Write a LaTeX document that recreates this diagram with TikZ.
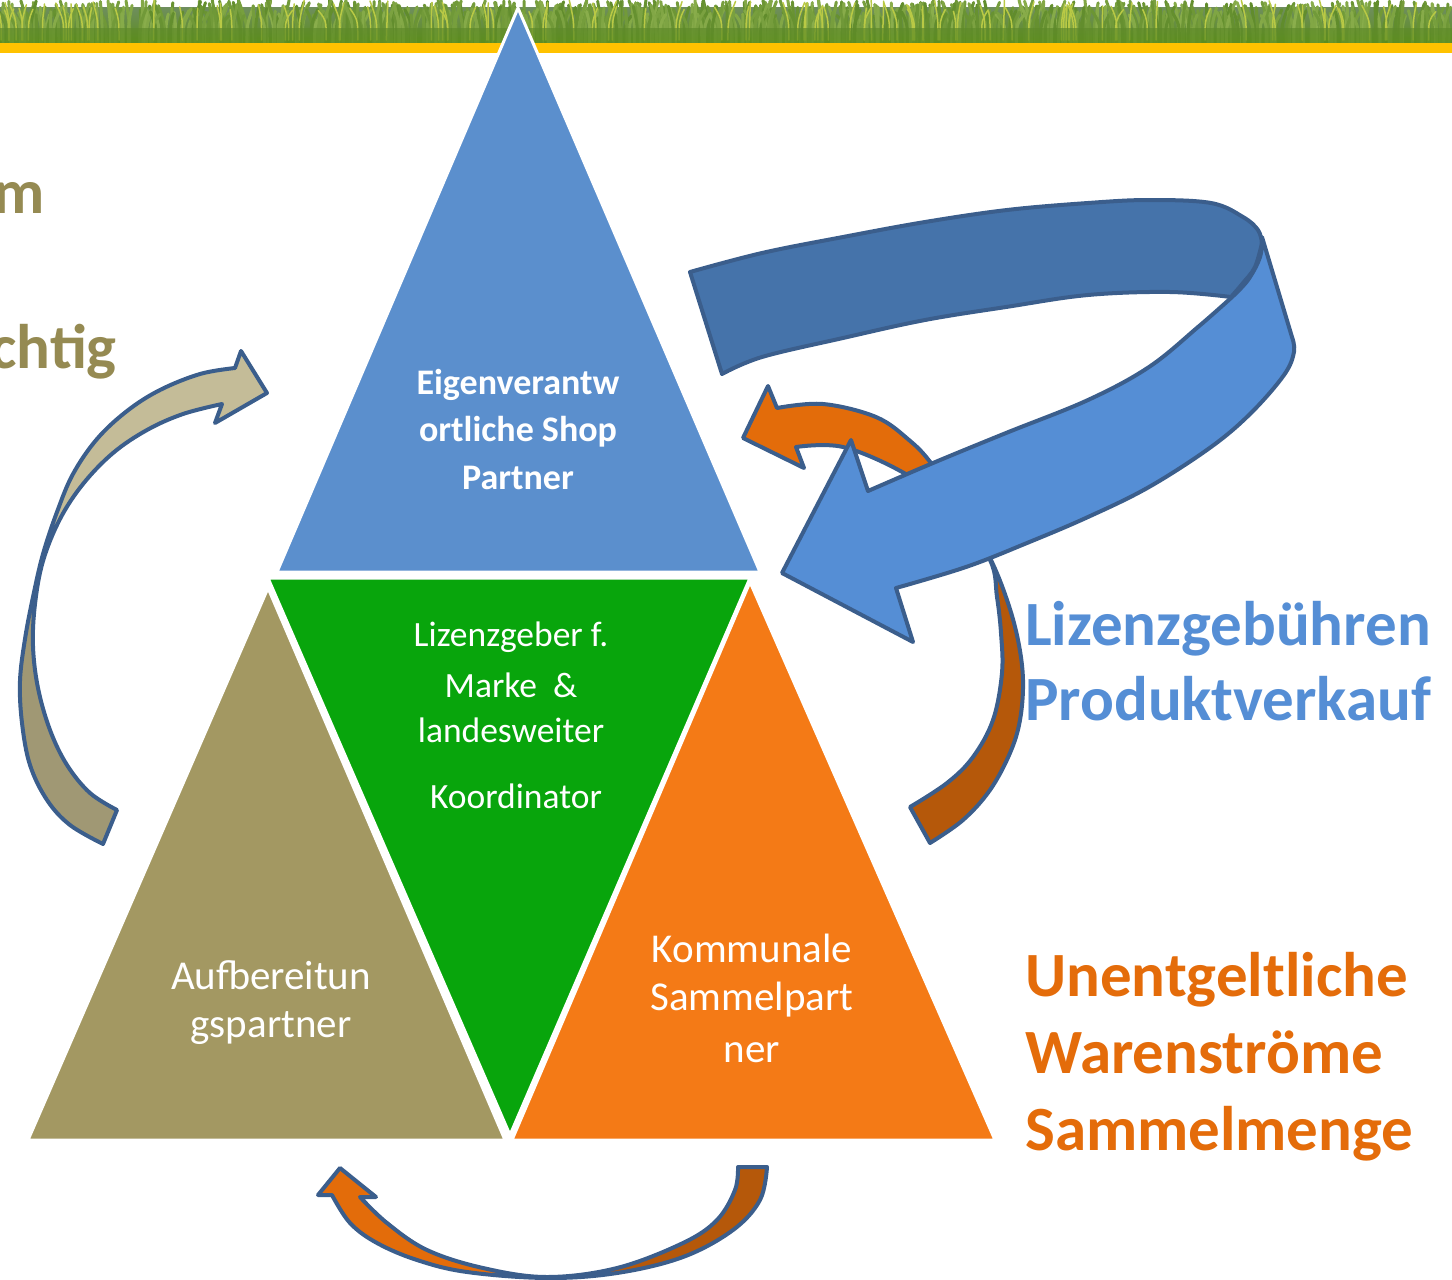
\documentclass[tikz,border=0pt]{standalone}
\usepackage{fontspec}
\setmainfont{Carlito}
\definecolor{triblue}{HTML}{5B8FCD}
\definecolor{trigreen}{HTML}{08A50C}
\definecolor{triolive}{HTML}{A39862}
\definecolor{triorange}{HTML}{F47A16}
\definecolor{arrowline}{HTML}{3B5E8C}
\definecolor{ribdark}{HTML}{4573AA}
\definecolor{riblight}{HTML}{558ED5}
\definecolor{orbright}{HTML}{E36C0A}
\definecolor{ordark}{HTML}{B5580A}
\definecolor{olivelight}{HTML}{C4BC98}
\definecolor{olivedark}{HTML}{A09874}
\definecolor{txtblue}{HTML}{558ED5}
\definecolor{txtorange}{HTML}{E46C0A}
\definecolor{txtolive}{HTML}{958A52}
\definecolor{grassA}{HTML}{8DB04E}
\definecolor{grassB}{HTML}{5E8A2A}
\definecolor{grassC}{HTML}{B9C945}
\definecolor{grassTop}{HTML}{6F8E5E}
\definecolor{grassBot}{HTML}{5C8E1C}
\definecolor{bandyellow}{HTML}{FFC200}
\begin{document}
\begin{tikzpicture}[x=1pt,y=-1pt,
  tri/.style={draw=white,line width=3,line join=round},
  arr/.style={draw=arrowline,line width=4,line join=round},
  intxt/.style={text=white,inner sep=0,font=\fontsize{35.5}{42}\selectfont},
  bigtxt/.style={inner sep=0,anchor=base west,font=\fontsize{63}{70}\selectfont\bfseries}]
\useasboundingbox (0,0) rectangle (1452,1280);
% grass strip
\shade[top color=grassTop,bottom color=grassBot] (0,7) rectangle (1452,44);
\pgfmathsetseed{7}
\foreach \i in {1,...,900}{
  \pgfmathsetmacro\bx{rnd*1452}
  \pgfmathsetmacro\bt{rnd*16}
  \pgfmathsetmacro\bd{(rnd-0.5)*18}
  \pgfmathtruncatemacro\bc{rnd*90+5}
  \draw[line width=3,line cap=round,color=grassA!\bc!grassB] (\bx,44) .. controls (\bx,24) .. (\bx+\bd,\bt);
}
\pgfmathsetseed{11}
\foreach \i in {1,...,120}{
  \pgfmathsetmacro\bx{rnd*1452}
  \pgfmathsetmacro\bt{rnd*12}
  \pgfmathsetmacro\bd{(rnd-0.5)*16}
  \draw[line width=1.5,line cap=round,color=grassC] (\bx,40) .. controls (\bx,20) .. (\bx+\bd,\bt);
}
\shade[top color=grassBot!0!grassB,bottom color=grassBot,opacity=0.7] (0,28) rectangle (1452,44);
\fill[bandyellow] (0,43) rectangle (1452,53);
% triangles
\path[tri,fill=triblue] (518,8) -- (760,572) -- (277,572) -- cycle;
\path[tri,fill=trigreen] (268,578) -- (750,578) -- (510,1135) -- cycle;
\path[tri,fill=triolive] (268,588) -- (505,1140) -- (28,1140) -- cycle;
\path[tri,fill=triorange] (750,582) -- (995,1140) -- (512,1140) -- cycle;
% triangle texts
\node[intxt,font=\fontsize{36}{42}\selectfont\bfseries] (t1) at (518,385) {Eigenverantw};
\node[intxt,font=\fontsize{36}{42}\selectfont\bfseries] (t2) at (518,432) {ortliche Shop};
\node[intxt,font=\fontsize{36}{42}\selectfont\bfseries] (t3) at (518,478) {Partner};
\node[intxt] (g1) at (511,637) {Lizenzgeber f.};
\node[intxt] (g2) at (511,685) {Marke\ \ \&};
\node[intxt] (g3) at (511,730) {landesweiter};
\node[intxt] (g4) at (516,796) {Koordinator};
\node[intxt,font=\fontsize{41}{48}\selectfont] (o1) at (271,975) {Aufbereitun};
\node[intxt,font=\fontsize{41}{48}\selectfont] (o2) at (271,1028) {gspartner};
\node[intxt,font=\fontsize{41}{48}\selectfont] (r1) at (752,948) {Kommunale};
\node[intxt,font=\fontsize{41}{48}\selectfont] (r2) at (752,1000) {Sammelpart};
\node[intxt,font=\fontsize{41}{48}\selectfont] (r3) at (752,1053) {ner};
% side texts (cut off at the left edge, as in the reference)
\node[bigtxt,anchor=base east,text=txtolive] (lm) at (45,213) {m};
\node[bigtxt,anchor=base east,text=txtolive] (lc) at (117,368) {chtig};
\node[bigtxt,text=txtblue] (b1) at (1025,645) {Lizenzgebühren};
\node[bigtxt,text=txtblue] (b2) at (1025,720) {Produktverkauf};
\node[bigtxt,text=txtorange] (u1) at (1025,996) {Unentgeltliche};
\node[bigtxt,text=txtorange] (u2) at (1025,1073) {Warenströme};
\node[bigtxt,text=txtorange] (u3) at (1025,1150) {Sammelmenge};
% olive curved arrow
\path[save path=\olivep] (267,393) -- (241,351) -- (235,368)
  -- plot[smooth,tension=0.6] coordinates {(235,368) (200,374) (160,390) (127,411) (97,439) (73,474) (57,512) (43,554) (33,597) (25,639) (20,681) (22,723) (30,765) (47,800) (70,825) (103,844)}
  -- (117,810)
  -- plot[smooth,tension=0.6] coordinates {(117,810) (90,793) (67,765) (50,730) (38,688) (33,646) (35,604) (43,561) (60,519) (83,484) (113,453) (147,430) (183,414) (222,404)}
  -- (215,423) -- cycle;
\fill[olivedark,use path=\olivep];
\begin{scope}
  \clip (0,330) rectangle (300,590);
  \fill[olivelight,use path=\olivep];
\end{scope}
\path[arr,use path=\olivep];
% orange arrow top right
\path[save path=\orangep] (743,438) -- (768,386) -- (777,408)
  -- plot[smooth,tension=0.6] coordinates {(777,408) (823,404) (876,417) (909,440) (931,463) (962,508) (990,558) (1007,600) (1018,640) (1023,680) (1020,720) (1010,753) (990,790) (963,820) (930,843)}
  -- (910,807)
  -- plot[smooth,tension=0.6] coordinates {(910,807) (947,783) (973,757) (993,720) (1002,673) (1001,633) (997,597) (990,560) (955,510) (904,473) (843,447) (796,447)}
  -- (804,468) -- cycle;
\fill[ordark,use path=\orangep];
\begin{scope}
  \clip (700,350) rectangle (985,520);
  \fill[orbright,use path=\orangep];
\end{scope}
\path[arr,use path=\orangep];
% blue ribbon arrow, back part
\path[arr,fill=ribdark] (690,272)
  -- plot[smooth,tension=0.6] coordinates {(690,272) (762,253) (843,237) (925,222) (1007,210) (1088,203) (1149,200) (1211,203) (1243,217) (1258,230) (1262,243)}
  -- plot[smooth,tension=0.6] coordinates {(1262,243) (1255,267) (1243,283) (1231,297)}
  -- plot[smooth,tension=0.6] coordinates {(1231,297) (1170,292) (1088,295) (1006,307) (925,320) (843,338) (762,357) (722,374)}
  -- cycle;
% blue ribbon arrow, front part
\path[arr,fill=riblight] (1262,237)
  -- (1292,337)
  -- plot[smooth,tension=0.6] coordinates {(1292,337) (1294,352) (1284,375) (1251,413) (1211,447) (1149,487) (1088,517) (1027,543) (966,567) (896,588)}
  -- (913,642) -- (782,573) -- (851,440) -- (868,491)
  -- plot[smooth,tension=0.6] coordinates {(868,491) (933,463) (1006,433) (1088,400) (1149,367) (1198,327) (1231,298)}
  -- plot[smooth,tension=0.6] coordinates {(1231,298) (1248,280) (1260,257) (1262,237)}
  -- cycle;
% bottom orange arrow
\path[save path=\bottomp] (340,1168) -- (318,1195) -- (332,1195)
  -- plot[smooth,tension=0.6] coordinates {(332,1195) (350,1223) (377,1243) (417,1260) (467,1272) (547,1278) (617,1273) (683,1257) (733,1230) (760,1200) (767,1167)}
  -- (738,1167)
  -- plot[smooth,tension=0.6] coordinates {(738,1167) (735,1190) (717,1220) (683,1243) (617,1268) (547,1277) (483,1268) (427,1250) (387,1223) (360,1197)}
  -- (376,1197) -- cycle;
\fill[ordark,use path=\bottomp];
\begin{scope}
  \clip (300,1150) rectangle (547,1290);
  \fill[orbright,use path=\bottomp];
\end{scope}
\path[arr,use path=\bottomp];
\end{tikzpicture}
\end{document}
